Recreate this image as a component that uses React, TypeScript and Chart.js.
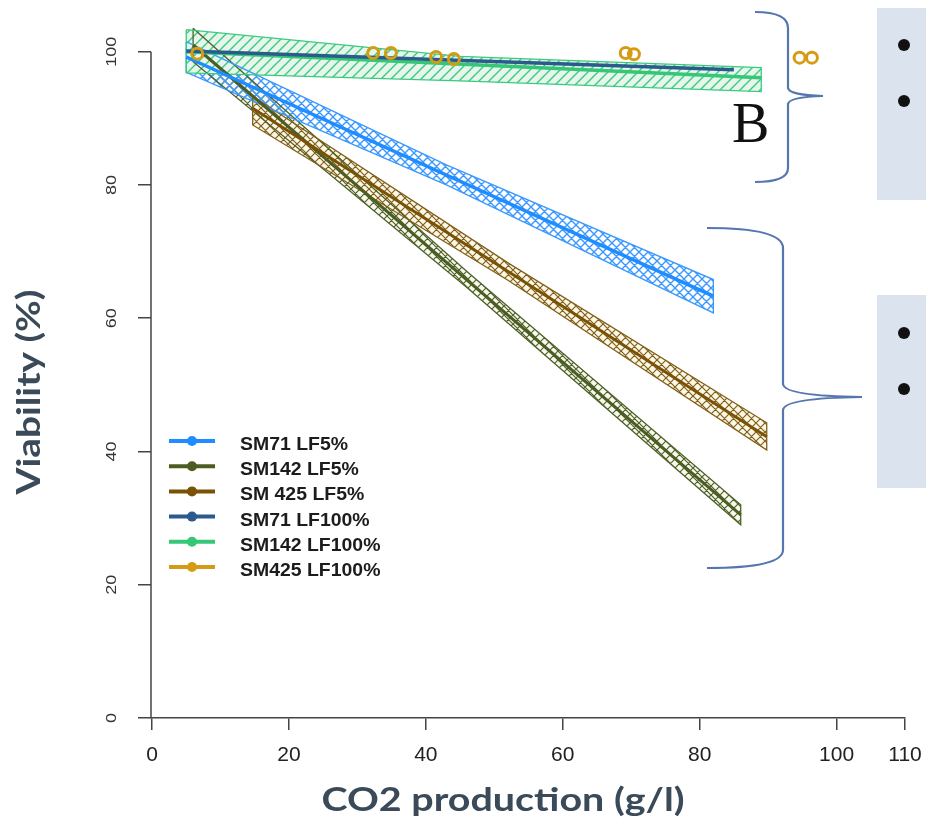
import React, { useEffect, useRef } from 'react';
import { Chart, registerables } from 'chart.js';

Chart.register(...registerables);

// ---------- data ----------
const seriesNames = ['SM71 LF5%', 'SM142 LF5%', 'SM 425 LF5%', 'SM71 LF100%', 'SM142 LF100%', 'SM425 LF100%'];
const seriesColors = ['#1f8cff', '#4b5d22', '#7a5206', '#2b5a8c', '#35c776', '#d69b14'];
const bandColors = ['#3a98ff', '#4f6128', '#80601a', '#2b5a8c', '#3ccb7e'];

const xTicks = [0, 20, 40, 60, 80, 100, 110];
const yTicks = [0, 20, 40, 60, 80, 100];

// SM71 LF5%
const sm71LF5X = [5, 82];
const sm71LF5Y = [99.2, 63.3];
const sm71LF5BandX = [5, 43, 82];
const sm71LF5Upper = [101.5, 83.0, 65.8];
const sm71LF5Lower = [96.9, 80.0, 60.8];

// SM142 LF5%
const sm142LF5X = [6, 86];
const sm142LF5Y = [101, 30.5];
const sm142LF5BandX = [6, 46, 86];
const sm142LF5Upper = [103.5, 67.0, 32.0];
const sm142LF5Lower = [98.5, 64.6, 29.0];

// SM 425 LF5%
const sm425LF5X = [14.7, 89.8];
const sm425LF5Y = [91.5, 42.2];
const sm425LF5BandX = [14.7, 52, 89.8];
const sm425LF5Upper = [93.3, 68.3, 44.3];
const sm425LF5Lower = [89.0, 65.7, 40.2];

// SM71 LF100%
const sm71LF100X = [5, 85];
const sm71LF100Y = [100.1, 97.3];

// SM142 LF100%
const sm142LF100X = [5, 89];
const sm142LF100Y = [100.0, 96.1];
const sm142LF100BandX = [5, 45, 89];
const sm142LF100Upper = [103.3, 99.3, 97.6];
const sm142LF100Lower = [96.8, 95.6, 94.0];

// SM425 LF100% (observed points)
const sm425LF100X = [6.6, 32.3, 34.9, 41.5, 44.1, 69.2, 70.4, 94.6, 96.4];
const sm425LF100Y = [99.7, 99.8, 99.8, 99.2, 98.9, 99.8, 99.6, 99.1, 99.1];

// ---------- helpers ----------
const pts = (xs: number[], ys: number[]) => xs.map((x, i) => ({ x, y: ys[i] }));
const outline = (xs: number[], up: number[], lo: number[]) => [
  ...xs.map((x, i) => ({ x, y: up[i] })),
  ...xs.map((x, i) => ({ x, y: lo[i] })).reverse(),
  { x: xs[0], y: up[0] },
];

function hatch(color: string, cross: boolean, size: number, tint: string | null, lw: number) {
  const c = document.createElement('canvas');
  c.width = size;
  c.height = size;
  const g = c.getContext('2d')!;
  if (tint) {
    g.fillStyle = tint;
    g.fillRect(0, 0, size, size);
  }
  g.strokeStyle = color;
  g.lineWidth = lw;
  g.beginPath();
  g.moveTo(-1, size + 1);
  g.lineTo(size + 1, -1);
  g.moveTo(-1, 1);
  g.lineTo(1, -1);
  g.moveTo(size - 1, size + 1);
  g.lineTo(size + 1, size - 1);
  if (cross) {
    g.moveTo(-1, -1);
    g.lineTo(size + 1, size + 1);
    g.moveTo(size - 1, -1);
    g.lineTo(size + 1, 1);
    g.moveTo(-1, size - 1);
    g.lineTo(1, size + 1);
  }
  g.stroke();
  return g.createPattern(c, 'repeat') as CanvasPattern;
}

function bandSets(xs: number[], up: number[], lo: number[], color: string, pattern: CanvasPattern) {
  return [
    { data: pts(xs, up), borderColor: 'rgba(0,0,0,0)', borderWidth: 0, pointRadius: 0, fill: false, order: 10 },
    { data: pts(xs, lo), borderColor: 'rgba(0,0,0,0)', borderWidth: 0, pointRadius: 0, fill: '-1', backgroundColor: pattern, order: 10 },
    { data: outline(xs, up, lo), borderColor: color, borderWidth: 1.3, pointRadius: 0, fill: false, order: 9 },
  ];
}

const FONT_SANS = '"Liberation Sans", Arial, sans-serif';
const FONT_TITLE = 'Lato, "Open Sans", sans-serif';

function fitText(ctx: CanvasRenderingContext2D, text: string, width: number) {
  const w = ctx.measureText(text).width;
  ctx.scale(width / w, 1);
  ctx.fillText(text, 0, 0);
}

const annotatePlugin = {
  id: 'annotate',
  beforeDraw(chart: any) {
    const ctx = chart.ctx as CanvasRenderingContext2D;
    ctx.save();
    ctx.fillStyle = '#dbe3ef';
    ctx.fillRect(877, 8, 49, 192);
    ctx.fillRect(877, 295, 49, 193);
    ctx.fillStyle = '#111';
    for (const [bx, by] of [[904, 45], [904, 101], [904, 333], [904, 389]]) {
      ctx.beginPath();
      ctx.arc(bx, by, 6, 0, Math.PI * 2);
      ctx.fill();
    }
    ctx.restore();
  },
  afterDraw(chart: any) {
    const ctx = chart.ctx as CanvasRenderingContext2D;
    const ys = chart.scales.y;
    const left = chart.chartArea.left;
    ctx.save();
    // y axis line (0..100)
    ctx.strokeStyle = '#444';
    ctx.lineWidth = 1.5;
    ctx.beginPath();
    ctx.moveTo(left, ys.getPixelForValue(yTicks[0]));
    ctx.lineTo(left, ys.getPixelForValue(yTicks[yTicks.length - 1]));
    ctx.stroke();

    // y tick labels (parallel to axis)
    ctx.fillStyle = '#333';
    ctx.font = '15px ' + FONT_SANS;
    ctx.textAlign = 'center';
    ctx.textBaseline = 'middle';
    for (const v of yTicks) {
      const py = ys.getPixelForValue(v);
      ctx.save();
      ctx.translate(112, py);
      ctx.rotate(-Math.PI / 2);
      ctx.scale(1.2, 1);
      ctx.fillText(String(v), 0, 0);
      ctx.restore();
    }

    // axis titles
    ctx.fillStyle = '#3b4a59';
    ctx.font = 'bold 32px ' + FONT_TITLE;
    ctx.textBaseline = 'alphabetic';
    ctx.save();
    ctx.translate(503, 811);
    fitText(ctx, 'CO2 production (g/l)', 363);
    ctx.restore();
    ctx.save();
    ctx.translate(40, 392);
    ctx.rotate(-Math.PI / 2);
    fitText(ctx, 'Viability (%)', 205);
    ctx.restore();

    // legend
    ctx.textAlign = 'left';
    ctx.textBaseline = 'middle';
    ctx.font = 'bold 18px ' + FONT_SANS;
    seriesNames.forEach((name, i) => {
      const ry = 441 + i * 25.2;
      ctx.strokeStyle = seriesColors[i];
      ctx.lineWidth = 4;
      ctx.beginPath();
      ctx.moveTo(169, ry);
      ctx.lineTo(215, ry);
      ctx.stroke();
      ctx.fillStyle = seriesColors[i];
      ctx.beginPath();
      ctx.arc(192, ry, 5, 0, Math.PI * 2);
      ctx.fill();
      ctx.fillStyle = '#1c1c1c';
      ctx.save();
      ctx.translate(240, ry + 4);
      ctx.scale(1.08, 1);
      ctx.fillText(name, 0, 0);
      ctx.restore();
    });

    // braces
    ctx.strokeStyle = '#5577b0';
    ctx.lineWidth = 2.2;
    ctx.beginPath();
    ctx.moveTo(755, 12);
    ctx.quadraticCurveTo(788, 12, 788, 28);
    ctx.lineTo(788, 88);
    ctx.quadraticCurveTo(789, 95, 823, 96);
    ctx.quadraticCurveTo(789, 97, 788, 104);
    ctx.lineTo(788, 168);
    ctx.quadraticCurveTo(788, 182, 755, 182);
    ctx.stroke();
    ctx.beginPath();
    ctx.moveTo(707, 228);
    ctx.quadraticCurveTo(783, 228, 783, 248);
    ctx.lineTo(783, 384);
    ctx.quadraticCurveTo(784, 396, 862, 397);
    ctx.quadraticCurveTo(784, 398, 783, 410);
    ctx.lineTo(783, 550);
    ctx.quadraticCurveTo(783, 568, 707, 568);
    ctx.stroke();

    // label B
    ctx.fillStyle = '#111';
    ctx.font = '56px "Liberation Serif", "Times New Roman", serif';
    ctx.textAlign = 'left';
    ctx.textBaseline = 'alphabetic';
    ctx.fillText('B', 732, 142);
    ctx.restore();
  },
};

export default function App() {
  const ref = useRef<HTMLCanvasElement>(null);
  useEffect(() => {
    if (!ref.current) return;
    const pBlue = hatch(bandColors[0], true, 9, null, 1.4);
    const pOlive = hatch(bandColors[1], true, 9, '#f8f9ee', 1.2);
    const pBrown = hatch(bandColors[2], true, 9, '#fcf7e6', 1.2);
    const pGreen = hatch(bandColors[4], false, 10, '#e6f6ec', 1.4);

    const datasets: any[] = [
      ...bandSets(sm142LF100BandX, sm142LF100Upper, sm142LF100Lower, bandColors[4], pGreen),
      ...bandSets(sm71LF5BandX, sm71LF5Upper, sm71LF5Lower, bandColors[0], pBlue),
      ...bandSets(sm425LF5BandX, sm425LF5Upper, sm425LF5Lower, bandColors[2], pBrown),
      ...bandSets(sm142LF5BandX, sm142LF5Upper, sm142LF5Lower, bandColors[1], pOlive),
      { label: seriesNames[0], data: pts(sm71LF5X, sm71LF5Y), borderColor: seriesColors[0], borderWidth: 3.5, pointRadius: 0, fill: false, order: 5 },
      { label: seriesNames[2], data: pts(sm425LF5X, sm425LF5Y), borderColor: seriesColors[2], borderWidth: 3, pointRadius: 0, fill: false, order: 5 },
      { label: seriesNames[1], data: pts(sm142LF5X, sm142LF5Y), borderColor: seriesColors[1], borderWidth: 3, pointRadius: 0, fill: false, order: 5 },
      { label: seriesNames[4], data: pts(sm142LF100X, sm142LF100Y), borderColor: seriesColors[4], borderWidth: 3.5, pointRadius: 0, fill: false, order: 4 },
      { label: seriesNames[3], data: pts(sm71LF100X, sm71LF100Y), borderColor: seriesColors[3], borderWidth: 3.5, pointRadius: 0, fill: false, order: 3 },
      {
        label: seriesNames[5],
        data: pts(sm425LF100X, sm425LF100Y),
        showLine: false,
        pointRadius: 5.5,
        pointBorderWidth: 3,
        pointBackgroundColor: 'rgba(0,0,0,0)',
        pointBorderColor: seriesColors[5],
        borderColor: seriesColors[5],
        fill: false,
        order: 0,
      },
    ];

    const chart = new Chart(ref.current, {
      type: 'line',
      data: { datasets },
      options: {
        responsive: false,
        animation: false,
        devicePixelRatio: 1,
        layout: { padding: { top: 25, right: 21, left: 0, bottom: 0 } },
        plugins: { legend: { display: false }, tooltip: { enabled: false } },
        elements: { line: { tension: 0 } },
        scales: {
          x: {
            type: 'linear',
            min: -0.15,
            max: 110,
            afterBuildTicks: (s: any) => {
              s.ticks = xTicks.map((v) => ({ value: v }));
            },
            afterFit: (s: any) => {
              s.height = 103;
              s.paddingLeft = 0;
              s.paddingRight = 0;
            },
            ticks: {
              autoSkip: false,
              maxRotation: 0,
              minRotation: 0,
              padding: 13,
              color: '#222',
              font: { family: FONT_SANS, size: 21 },
            },
            grid: { drawOnChartArea: false, drawTicks: true, tickLength: 12, color: '#444', lineWidth: 1.5 },
            border: { display: true, color: '#444', width: 1.5 },
          },
          y: {
            type: 'linear',
            min: 0,
            max: 104,
            afterBuildTicks: (s: any) => {
              s.ticks = yTicks.map((v) => ({ value: v }));
            },
            afterFit: (s: any) => {
              s.width = 151;
              s.paddingTop = 0;
              s.paddingBottom = 0;
            },
            ticks: { display: false },
            grid: { drawOnChartArea: false, drawTicks: true, tickLength: 13, color: '#444', lineWidth: 1.5 },
            border: { display: false },
          },
        },
      } as any,
      plugins: [annotatePlugin],
    });
    return () => chart.destroy();
  }, []);

  return (
    <div style={{ position: 'absolute', left: 0, top: 0, width: 926, height: 821, background: '#fff' }}>
      <canvas ref={ref} width={926} height={821} style={{ display: 'block' }} />
    </div>
  );
}
